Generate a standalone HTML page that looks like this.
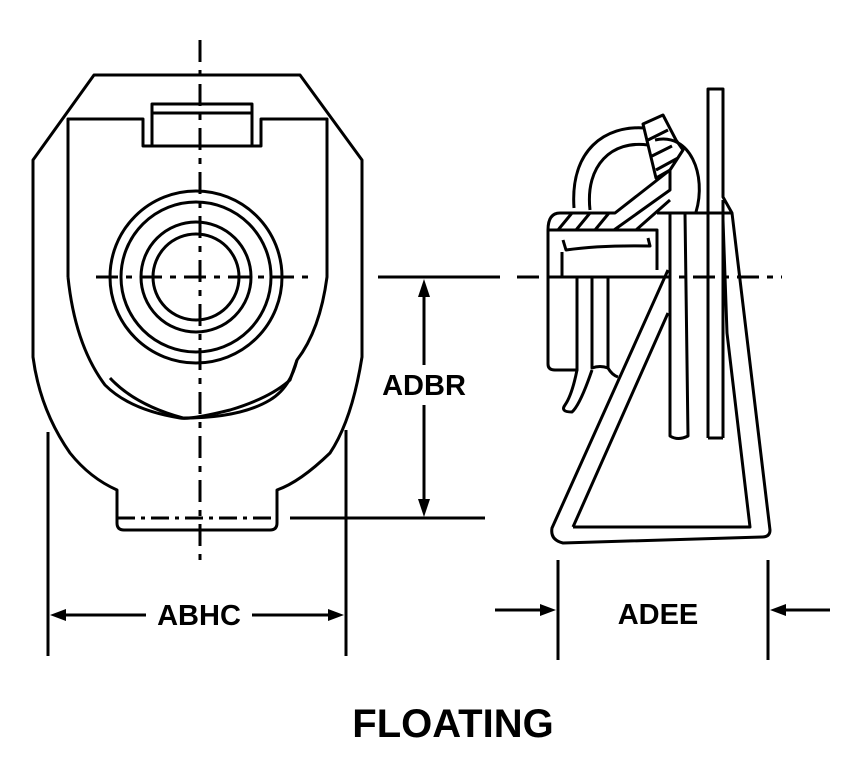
<!DOCTYPE html>
<html><head><style>
html,body{margin:0;padding:0;background:#fff;width:848px;height:767px;overflow:hidden}
svg{display:block}
text{font-family:"Liberation Sans",sans-serif;font-weight:bold;fill:#000}
</style></head><body>
<svg width="848" height="767" viewBox="0 0 848 767" xmlns="http://www.w3.org/2000/svg">
<g fill="none" stroke="#000" stroke-width="3" stroke-linejoin="round">
<!-- front view body -->
<path d="M94,75 L300,75 L362,160 L362,357 Q352,420 330,453 Q300,482 277,490 L277,523 Q277,530 270,530 L124,530 Q117,530 117,523 L117,490 Q90,478 70,453 Q40,410 33,357 L33,160 Z"/>
<path d="M68,277 L68,119 L143,119 L143,146 L261,146 L261,119 L327,119 L327,277 Q320,330 297,360 L290,380 Q270,398 230,410 Q190,420 180,418 Q130,410 105,385 Q75,345 68,277"/>
<path d="M110,378 Q135,405 183,418 Q240,418 270,400 Q290,388 297,360"/>
<rect x="152" y="104" width="100" height="42"/>
<line x1="152" y1="113" x2="252" y2="113"/>
<circle cx="196" cy="277" r="86"/>
<circle cx="196" cy="277" r="75"/>
<circle cx="196" cy="277" r="55"/>
<circle cx="196" cy="277" r="43"/>
<line x1="117" y1="518" x2="277" y2="518" stroke-dasharray="18,6,4,6"/>
<!-- centerlines -->
<line x1="200" y1="40" x2="200" y2="566" stroke-dasharray="22,8,6,8"/>
<line x1="96" y1="277" x2="310" y2="277" stroke-dasharray="22,8,6,8"/>
<line x1="378" y1="277" x2="500" y2="277"/>
<line x1="517" y1="277" x2="782" y2="277" stroke-dasharray="22,8,6,8"/>
<line x1="290" y1="518" x2="485" y2="518"/>
<!-- dims -->
<line x1="424" y1="290" x2="424" y2="365"/>
<line x1="424" y1="405" x2="424" y2="505"/>
<line x1="48" y1="432" x2="48" y2="656"/>
<line x1="346" y1="430" x2="346" y2="656"/>
<line x1="62" y1="615" x2="146" y2="615"/>
<line x1="252" y1="615" x2="332" y2="615"/>
<line x1="558" y1="560" x2="558" y2="660"/>
<line x1="768" y1="560" x2="768" y2="660"/>
<line x1="495" y1="610" x2="545" y2="610"/>
<line x1="830" y1="610" x2="781" y2="610"/>
<!-- side view -->
<path d="M708,438 L708,89 L723,89 L723,197 L732,213 L770,530 Q770,537 762,537 L563,543 Q550,540 552,528 L668,270"/>
<path d="M723,438 L723,200 M708,438 L723,438"/>
<path d="M573,527 L750,527 L727,333 L723,220 M573,527 L668,313"/>
<line x1="657" y1="213" x2="732" y2="213"/>
<path d="M670,213 L670,436 Q678,441 688,436 L685,213"/>
<path d="M548,230 L657,230 L657,270 M548,230 L548,364 Q548,370 555,370 L577,370 L577,277 M592,277 L592,368 Q600,365 608,368 L608,277 M548,277 L657,277"/>
<path d="M577,370 Q572,395 565,405 Q560,412 572,412 Q580,405 592,370"/>
<path d="M608,368 Q612,375 618,377"/>
<path d="M548,230 Q548,213 560,213 L615,213 L670,170 L670,190 L614,230"/>
<path d="M558,230 L572,213 M576,230 L590,213 M595,230 L609,213 M636,230 L670,200"/>
<path d="M563,240 L566,250 Q600,245 650,246 L648,238"/>
<line x1="562" y1="252" x2="562" y2="277"/>
<path d="M574,208 C570,150 605,125 645,128 M590,210 C585,165 612,140 648,145"/>
<path d="M655,140 C690,132 707,175 696,212"/>
<path d="M643,124 L663,115 L676,140 L683,150 L670,170 L656,178 Z M648,140 L668,130 M652,156 L672,146 M656,170 L678,158"/>
</g>
<!-- arrowheads -->
<g fill="#000">
<polygon points="424,279 418,297 430,297"/>
<polygon points="424,517 418,499 430,499"/>
<polygon points="50,615 66,609 66,621"/>
<polygon points="344,615 328,609 328,621"/>
<polygon points="556,610 540,604 540,616"/>
<polygon points="770,610 786,604 786,616"/>
</g>
<text x="424" y="395" font-size="29" text-anchor="middle">ADBR</text>
<text x="199" y="625" font-size="29" text-anchor="middle">ABHC</text>
<text x="658" y="624" font-size="29" text-anchor="middle">ADEE</text>
<text x="453" y="737" font-size="40" text-anchor="middle">FLOATING</text>
</svg>
</body></html>
